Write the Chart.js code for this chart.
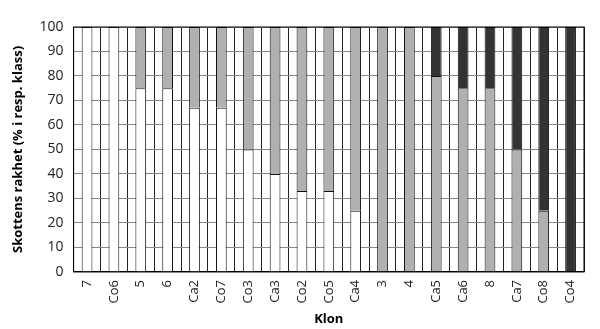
<!DOCTYPE html>
<html>
<head>
<meta charset="utf-8">
<script src="https://cdn.jsdelivr.net/npm/chart.js@4"></script>
<style>
  html, body { margin: 0; padding: 0; background: #fff; }
  #wrap { width: 600px; height: 329px; }
</style>
</head>
<body>
<div id="wrap"><canvas id="myChart"></canvas></div>
<script>
// kloner och andel (%) i varje klass
const kloner = ["7","Co6","5","6","Ca2","Co7","Co3","Ca3","Co2","Co5","Ca4","3","4","Ca5","Ca6","8","Ca7","Co8","Co4"];
const klass1 = [100,100,75,75,67,67,50,40,33,33,25,0,0,0,0,0,0,0,0];
const klass2 = [0,0,25,25,33,33,50,60,67,67,75,100,100,80,75,75,50,25,0];
const klass3 = [0,0,0,0,0,0,0,0,0,0,0,0,0,20,25,25,50,75,100];
const yTicks = [0,10,20,30,40,50,60,70,80,90,100];

const utanNoll = arr => arr.map(v => v === 0 ? null : v);
const kant = { top: 1, left: 1, right: 1, bottom: 0 };

const ctx = document.getElementById('myChart');

new Chart(ctx, {
  type: 'bar',
  data: {
    labels: kloner,
    datasets: [
      { label: "Klass 1", data: utanNoll(klass1), backgroundColor: '#ffffff', borderColor: '#111', borderWidth: kant },
      { label: "Klass 2", data: utanNoll(klass2), backgroundColor: '#b0b0b0', borderColor: '#111', borderWidth: kant },
      { label: "Klass 3", data: utanNoll(klass3), backgroundColor: '#333333', borderColor: '#111', borderWidth: kant }
    ]
  },
  options: {
    responsive: true,
    maintainAspectRatio: false,
    animation: false,
    layout: { padding: { top: 27, right: 16, left: 6, bottom: 0 } },
    datasets: { bar: { barPercentage: 0.4, categoryPercentage: 1.0, borderSkipped: false } },
    plugins: { legend: { display: false }, tooltip: { enabled: false } },
    scales: {
      x: {
        stacked: true,
        border: { color: '#000', width: 1 },
        grid: { offset: true, color: '#222', drawTicks: false, lineWidth: 1 },
        ticks: {
          color: '#222', minRotation: 90, maxRotation: 90, padding: 8,
          font: { family: 'Open Sans', size: 13 }
        },
        title: { display: true, text: 'Klon', color: '#000', padding: { top: 0, bottom: 2 },
          font: { family: 'Open Sans', size: 13, weight: 'bold' } }
      },
      y: {
        stacked: true,
        min: 0, max: 100,
        afterBuildTicks: (axis) => { axis.ticks = yTicks.map(v => ({ value: v })); },
        border: { color: '#000', width: 1 },
        grid: { color: '#888', drawTicks: false },
        ticks: { color: '#222', padding: 10, font: { family: 'Open Sans', size: 14 } },
        title: { display: true, text: 'Skottens rakhet (% i resp. klass)', color: '#000', padding: { bottom: 4 },
          font: { family: 'Open Sans', size: 13, weight: 'bold' } }
      }
    }
  },
  plugins: [{
    id: 'ram',
    afterDraw(chart) {
      const a = chart.chartArea, c = chart.ctx;
      c.save();
      c.strokeStyle = '#000';
      c.lineWidth = 1;
      c.strokeRect(a.left, a.top, a.right - a.left, a.bottom - a.top);
      c.restore();
    }
  }]
});
</script>
</body>
</html>
